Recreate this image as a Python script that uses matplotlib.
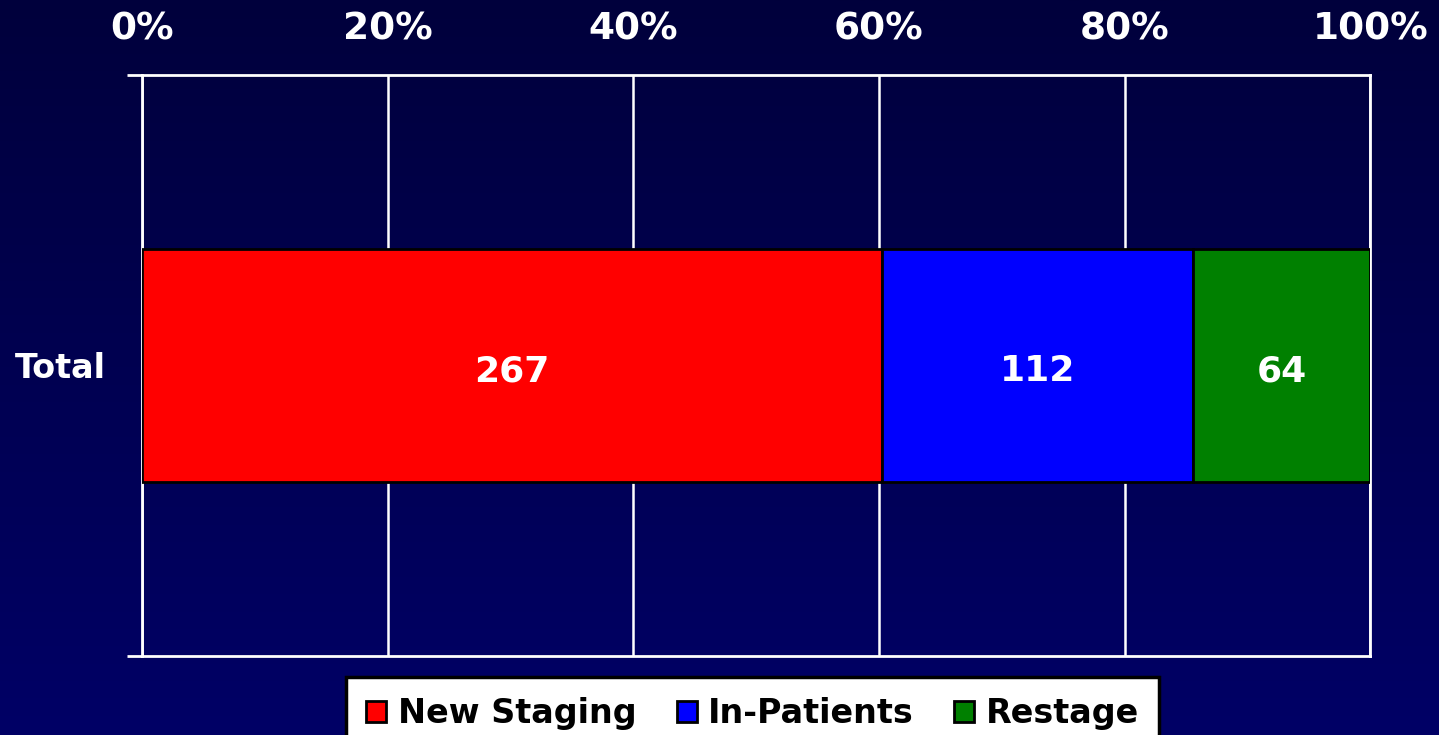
import numpy as np
import matplotlib.pyplot as plt
import matplotlib.ticker as mticker
from matplotlib.colors import LinearSegmentedColormap

# ── data ─────────────────────────────────────────────────────────────────────
category = ["Total"]
series = ["New Staging", "In-Patients", "Restage"]
counts = [267, 112, 64]
colors = ["#ff0000", "#0000ff", "#008000"]

total = sum(counts)
shares = [c / total * 100 for c in counts]

plt.rcParams.update({
    "font.family": "DejaVu Sans",
    "font.weight": "bold",
})

fig = plt.figure(figsize=(14.39, 7.35), dpi=100)

# gradient background
bg = fig.add_axes([0, 0, 1, 1], zorder=-10)
grad = np.linspace(0, 1, 256).reshape(-1, 1)
cmap = LinearSegmentedColormap.from_list("bg", ["#00003c", "#000066"])
bg.imshow(grad, aspect="auto", cmap=cmap, extent=[0, 1, 0, 1], origin="upper")
bg.axis("off")

ax = fig.add_axes([0.0987, 0.1075, 0.8535, 0.7905])
ax.set_facecolor("none")

left = 0
handles = []
for name, val, share, col in zip(series, counts, shares, colors):
    b = ax.barh(0, share, left=left, height=0.4, color=col,
                edgecolor="black", linewidth=2, label=name, zorder=3)
    handles.append(b)
    ax.text(left + share / 2, -0.01, str(val), ha="center", va="center",
            color="white", fontsize=26, fontweight="bold", zorder=4)
    left += share

ax.set_xlim(0, 100)
ax.set_ylim(-0.5, 0.5)
ax.xaxis.tick_top()
ax.set_xticks(np.arange(0, 101, 20))
ax.xaxis.set_major_formatter(mticker.FuncFormatter(lambda x, _: f"{x:.0f}%"))
ax.tick_params(axis="x", length=0, pad=20, labelsize=27, labelcolor="white")
ax.set_yticks([-0.5, 0.5])
ax.set_yticklabels([])
ax.tick_params(axis="y", length=11, width=2, color="white", direction="out")
ax.set_yticks([0], minor=True)
ax.set_yticklabels(category, minor=True)
ax.tick_params(axis="y", which="minor", length=0, pad=26, labelsize=24,
               labelcolor="white")
ax.grid(axis="x", color="white", linewidth=1.8, zorder=1)
for s in ax.spines.values():
    s.set_color("white")
    s.set_linewidth(2)

leg = fig.legend(handles=handles, labels=series, loc="upper center",
                 bbox_to_anchor=(0.523, 0.079), ncol=3, fontsize=24,
                 frameon=True, fancybox=False, edgecolor="black",
                 facecolor="white", framealpha=1, handlelength=0.6,
                 handleheight=0.6, handletextpad=0.35, columnspacing=1.2,
                 borderpad=0.6, borderaxespad=0)
leg.get_frame().set_linewidth(2.5)
for t in leg.get_texts():
    t.set_fontweight("bold")

plt.savefig("out.png", dpi=100, facecolor="#00003c")
